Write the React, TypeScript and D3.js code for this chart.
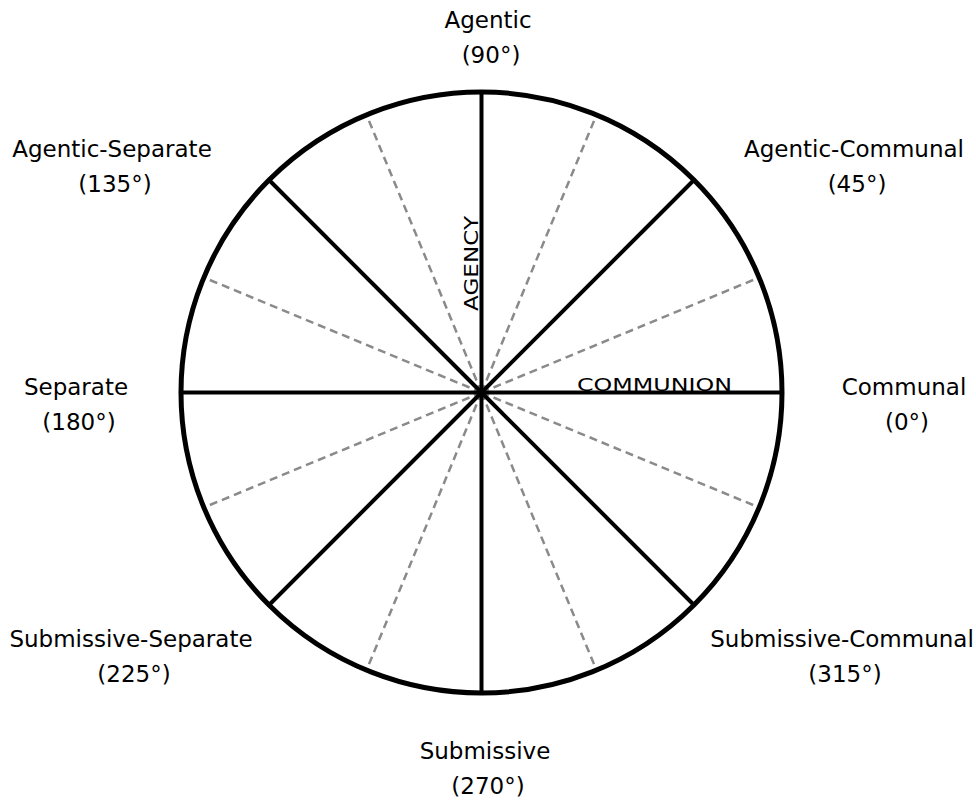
import { useEffect, useRef } from 'react';
import * as d3 from 'd3';

// octant names and their angles (degrees, counter-clockwise from east)
const octantNames = [
  'Communal',
  'Agentic-Communal',
  'Agentic',
  'Agentic-Separate',
  'Separate',
  'Submissive-Separate',
  'Submissive',
  'Submissive-Communal',
];
const octantAngles = [0, 45, 90, 135, 180, 225, 270, 315];
const halfAngles = [22.5, 67.5, 112.5, 157.5, 202.5, 247.5, 292.5, 337.5];
const axisNames = ['COMMUNION', 'AGENCY'];

// where each label block is centred (first-line baseline), same order as octantAngles
const labelSpots: [number, number][] = [
  [904, 395],
  [854, 157],
  [488, 28],
  [112, 157],
  [76, 395],
  [131, 647],
  [485, 759],
  [842, 647],
];

const App = () => {
  const ref = useRef<SVGSVGElement | null>(null);

  useEffect(() => {
    const svg = d3.select(ref.current);
    svg.selectAll('*').remove();

    const cx = 481.5;
    const cy = 392.5;
    const r = 300.5;
    const font = "'DejaVu Sans', sans-serif";

    // radius scale maps 0..1 to pixels, angle in degrees to radians
    const rad = d3.scaleLinear().domain([0, 1]).range([0, r]);
    const ang = d3.scaleLinear().domain([0, 360]).range([0, 2 * Math.PI]);
    const pt = (deg: number, k: number): [number, number] => [
      cx + rad(k) * Math.cos(ang(deg)),
      cy - rad(k) * Math.sin(ang(deg)),
    ];

    const g = svg.append('g');

    g.selectAll('line.half')
      .data(halfAngles)
      .join('line')
      .attr('class', 'half')
      .attr('x1', cx)
      .attr('y1', cy)
      .attr('x2', (d) => pt(d, 1)[0])
      .attr('y2', (d) => pt(d, 1)[1])
      .attr('stroke', '#8a8a8a')
      .attr('stroke-width', 2.5)
      .attr('stroke-dasharray', '8,5');

    g.selectAll('line.oct')
      .data(octantAngles)
      .join('line')
      .attr('class', 'oct')
      .attr('x1', cx)
      .attr('y1', cy)
      .attr('x2', (d) => pt(d, 1)[0])
      .attr('y2', (d) => pt(d, 1)[1])
      .attr('stroke', '#000')
      .attr('stroke-width', 4);

    g.append('circle')
      .attr('cx', cx)
      .attr('cy', cy)
      .attr('r', r)
      .attr('fill', 'none')
      .attr('stroke', '#000')
      .attr('stroke-width', 5);

    // axis names
    g.append('text')
      .attr('x', 577)
      .attr('y', 391)
      .attr('font-family', font)
      .attr('font-size', 18)
      .attr('textLength', 155)
      .attr('lengthAdjust', 'spacingAndGlyphs')
      .text(axisNames[0]);

    g.append('text')
      .attr('transform', 'translate(478,311) rotate(-90)')
      .attr('font-family', font)
      .attr('font-size', 20)
      .attr('textLength', 95)
      .attr('lengthAdjust', 'spacingAndGlyphs')
      .text(axisNames[1]);

    // octant labels
    const labels = g
      .selectAll('text.lab')
      .data(octantNames)
      .join('text')
      .attr('class', 'lab')
      .attr('font-family', font)
      .attr('font-size', 23)
      .attr('text-anchor', 'middle')
      .attr('fill', '#000');

    labels
      .append('tspan')
      .attr('x', (_, i) => labelSpots[i][0])
      .attr('y', (_, i) => labelSpots[i][1])
      .text((d) => d);
    labels
      .append('tspan')
      .attr('x', (_, i) => labelSpots[i][0] + 3)
      .attr('y', (_, i) => labelSpots[i][1] + 35)
      .text((_, i) => `(${octantAngles[i]}°)`);
  }, []);

  return (
    <svg
      ref={ref}
      width={976}
      height={806}
      style={{ position: 'absolute', left: 0, top: 0, background: '#fff' }}
    />
  );
};

export default App;
